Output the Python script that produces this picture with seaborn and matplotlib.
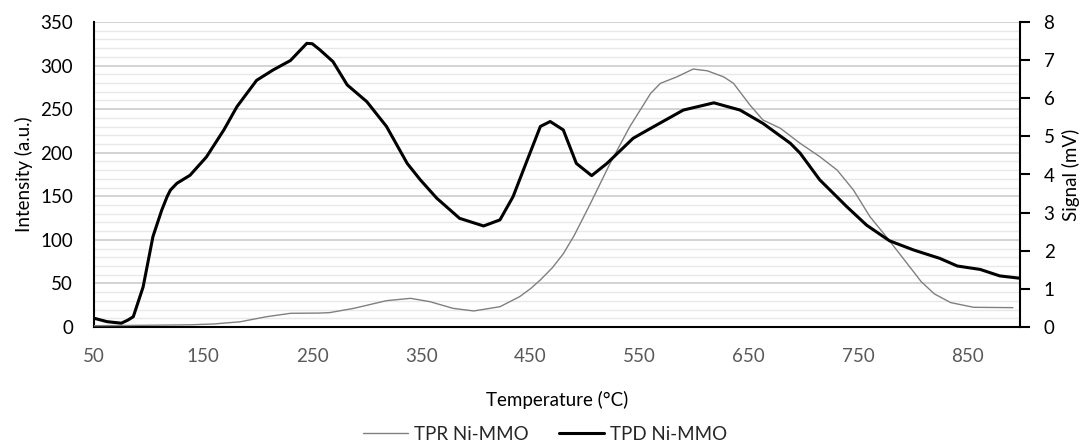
import numpy as np
import pandas as pd
import matplotlib
matplotlib.use("Agg")
import matplotlib.pyplot as plt
from matplotlib.lines import Line2D
from matplotlib.ticker import MultipleLocator
import seaborn as sns

# ---- data ----
tpr_temp = [50, 100, 138, 160, 184, 208, 230, 257, 266, 288, 318, 340, 358, 379, 398,
            422, 440, 450, 459, 470, 480, 490, 505, 523, 541, 560, 569, 584, 599, 612, 627,
            636, 651, 663, 679, 697, 715, 731, 746, 761, 776, 795, 808, 820, 835, 856, 892]
tpr_int = [1.5, 2, 2.5, 3.5, 6, 11.8, 15.7, 16, 16.5, 21.4, 30.2, 32.9, 29, 21.4, 18.4,
           23.3, 34.8, 44, 54, 68, 84, 105, 142, 188, 230, 268, 279.6, 287, 296, 294, 287,
           279.6, 254.8, 237.5, 228, 210.8, 195.5, 180, 157, 126.6, 103.6, 73, 52, 38, 28, 22.6, 22.2]

tpd_temp = [50, 62, 75, 81, 86, 95, 104, 112, 117, 120, 126, 138, 153, 169, 181, 199,
            214, 230, 245, 250, 257, 269, 282, 300, 318, 337, 349, 364, 385, 407, 422,
            434, 447, 459, 468, 480, 492, 506, 520, 544, 560, 590, 618, 642, 663, 688,
            697, 715, 740, 758, 779, 801, 825, 841, 862, 880, 898]
tpd_mv = [0.23, 0.14, 0.10, 0.18, 0.27, 1.05, 2.37, 3.06, 3.42, 3.59, 3.77, 3.98, 4.46,
          5.17, 5.78, 6.47, 6.74, 6.99, 7.44, 7.43, 7.27, 6.96, 6.35, 5.91, 5.26, 4.29,
          3.86, 3.38, 2.85, 2.65, 2.81, 3.42, 4.38, 5.26, 5.39, 5.17, 4.29, 3.97, 4.29,
          4.95, 5.21, 5.69, 5.88, 5.69, 5.34, 4.82, 4.56, 3.86, 3.15, 2.67, 2.26, 2.02,
          1.80, 1.60, 1.51, 1.34, 1.28]

x_ticks = [50, 150, 250, 350, 450, 550, 650, 750, 850]
left_ticks = [0, 50, 100, 150, 200, 250, 300, 350]
right_ticks = [0, 1, 2, 3, 4, 5, 6, 7, 8]

tpr_df = pd.DataFrame({"Temperature": tpr_temp, "Intensity": tpr_int})
tpd_df = pd.DataFrame({"Temperature": tpd_temp, "Signal": tpd_mv})

sns.set_style("white")
plt.rcParams['font.family'] = ['Lato', 'DejaVu Sans']

W, H = 1083, 442
fig = plt.figure(figsize=(W / 100, H / 100), dpi=100)
L, R, B, T = 94, 1020, 327, 22
ax = fig.add_axes([L / W, 1 - B / H, (R - L) / W, (B - T) / H])

gray = "#808080"
sns.lineplot(data=tpr_df, x="Temperature", y="Intensity", ax=ax, color=gray,
             linewidth=1.0, legend=False, zorder=3)
ax.set_xlim(50, 898.5)
ax.set_ylim(0, 350)
ax.set_xticks(x_ticks)
ax.set_yticks(left_ticks)
ax.yaxis.set_minor_locator(MultipleLocator(10))
ax.set_axisbelow(True)
ax.grid(True, which="major", axis="y", color="#d0d0d0", linewidth=1.3)
ax.grid(True, which="minor", axis="y", color="#e8e8e8", linewidth=1.0)
ax.grid(False, axis="x")

ax2 = ax.twinx()
sns.lineplot(data=tpd_df, x="Temperature", y="Signal", ax=ax2, color="black",
             linewidth=2.2, legend=False, zorder=4)
ax2.set_ylim(0, 8)
ax2.set_yticks(right_ticks)
ax2.set_xlim(50, 898.5)

fs = 13.5
for a in (ax, ax2):
    for s in a.spines.values():
        s.set_visible(False)
ax.spines["left"].set_visible(True)
ax.spines["bottom"].set_visible(True)
ax2.spines["right"].set_visible(True)
for s in (ax.spines["left"], ax.spines["bottom"], ax2.spines["right"]):
    s.set_color("black")
    s.set_linewidth(1.5)

ax.tick_params(axis="y", which="both", length=0, pad=15, labelsize=fs, labelcolor="black")
ax.tick_params(axis="x", which="both", length=0, pad=15, labelsize=fs, labelcolor="#595959")
ax2.tick_params(axis="y", which="major", length=7, width=1.5, direction="out",
                pad=10, labelsize=fs, labelcolor="black", color="black")
ax2.tick_params(axis="y", which="minor", length=0)

ax.set_xlabel("Temperature (°C)", fontsize=fs, color="black")
ax.set_ylabel("Intensity (a.u.)", fontsize=fs, color="black")
ax2.set_ylabel("Signal (mV)", fontsize=fs, color="black")
ax.xaxis.set_label_coords(0.5, (B - 391) / (B - T))
ax.yaxis.set_label_coords((33 - L) / (R - L), 0.5)
ax2.yaxis.set_label_coords((1062 - L) / (R - L), 0.5)

handles = [Line2D([0], [0], color=gray, linewidth=1.0),
           Line2D([0], [0], color="black", linewidth=2.2)]
fig.legend(handles, ["TPR Ni-MMO", "TPD Ni-MMO"], loc="center",
           bbox_to_anchor=(545 / W, 1 - 434 / H), ncol=2, frameon=False,
           fontsize=fs, handlelength=2.4, handletextpad=0.35, columnspacing=1.6,
           borderpad=0)

fig.savefig("out.png", dpi=100)
